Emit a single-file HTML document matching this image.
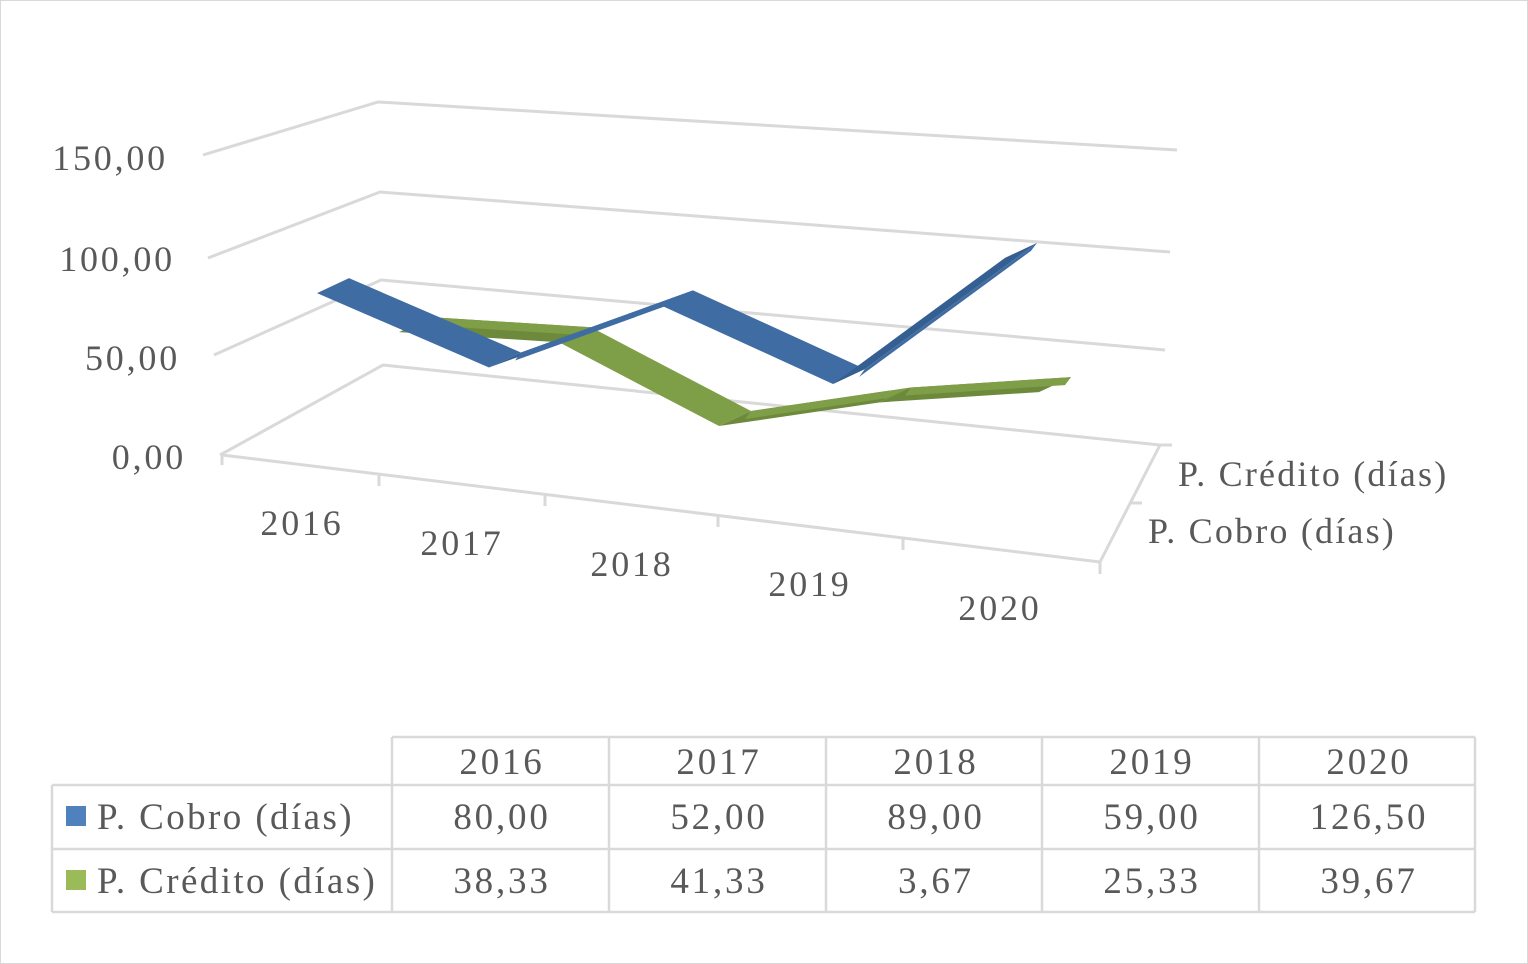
<!DOCTYPE html>
<html><head><meta charset="utf-8"><style>
body{margin:0;background:#fff}
svg{display:block}
text{font-family:"Liberation Serif",serif;fill:#595959;letter-spacing:2.8px}
</style></head><body>
<svg width="1528" height="964" xmlns="http://www.w3.org/2000/svg">
<rect x="0.5" y="0.5" width="1527" height="963" fill="#fff" stroke="#d9d9d9"/>
<g id="grid" stroke="#d9d9d9" stroke-width="3" fill="none">
<polyline points="203,155 378,102 1177,150"/>
<polyline points="208,258 380,192 1170,252"/>
<polyline points="214,355 381,280 1165,350"/>
<polyline points="220,455 383,365 1160,445"/>
<polyline points="222,455 1100,562 1160,445"/>
<line x1="222" y1="455" x2="222" y2="465"/><line x1="379" y1="474" x2="379" y2="486"/>
<line x1="545" y1="494" x2="545" y2="506"/><line x1="718" y1="515" x2="718" y2="527"/>
<line x1="903" y1="538" x2="903" y2="550"/><line x1="1100" y1="562" x2="1100" y2="574"/>
<line x1="1130" y1="503" x2="1142" y2="503"/><line x1="1160" y1="445" x2="1172" y2="445"/>
</g>
<g font-size="36" text-anchor="end">
<text x="168" y="170">150,00</text><text x="175" y="271">100,00</text>
<text x="180" y="370">50,00</text><text x="186" y="469">0,00</text>
</g>
<g font-size="36" text-anchor="middle">
<text x="302" y="535">2016</text><text x="462" y="555">2017</text><text x="632" y="576">2018</text>
<text x="810" y="596">2019</text><text x="1000" y="620">2020</text>
</g>
<g font-size="36">
<text x="1178" y="486" style="letter-spacing:2.2px">P. Crédito (días)</text><text x="1148" y="543" style="letter-spacing:2.2px">P. Cobro (días)</text>
</g>
<g id="series"></g>
<g stroke="#d9d9d9" stroke-width="2.5" fill="none">
<line x1="392" y1="737" x2="1475" y2="737"/>
<line x1="52" y1="785" x2="1475" y2="785"/>
<line x1="52" y1="849" x2="1475" y2="849"/>
<line x1="52" y1="912" x2="1475" y2="912"/>
<line x1="52" y1="785" x2="52" y2="912"/>
<line x1="392" y1="737" x2="392" y2="912"/><line x1="609" y1="737" x2="609" y2="912"/>
<line x1="826" y1="737" x2="826" y2="912"/><line x1="1042" y1="737" x2="1042" y2="912"/>
<line x1="1259" y1="737" x2="1259" y2="912"/><line x1="1475" y1="737" x2="1475" y2="912"/>
</g>
<rect x="66" y="806" width="20" height="20" fill="#4f81bd"/>
<rect x="66" y="870" width="20" height="20" fill="#9bbb59"/>
<g font-size="37">
<text x="97" y="829" style="letter-spacing:2.4px">P. Cobro (días)</text><text x="97" y="893" style="letter-spacing:2.4px">P. Crédito (días)</text>
</g>
<g id="tbl" font-size="37" text-anchor="middle"></g>
</svg>
<script>
const categories=["2016","2017","2018","2019","2020"];
const cobro=[80.00,52.00,89.00,59.00,126.50];
const credito=[38.33,41.33,3.67,25.33,39.67];
const cobroLabels=["80,00","52,00","89,00","59,00","126,50"];
const creditoLabels=["38,33","41,33","3,67","25,33","39,67"];
const NS="http://www.w3.org/2000/svg";
const rows={
 cobro:{x0:333,dx:172,a:453.6,b:15.6,k:2.1,c:"#3f6ca3",c2:"#365f91"},
 credito:{x0:415,dx:160,a:394,b:15.6,k:1.81,c:"#7f9e48",c2:"#6d8a3c"}
};
function pt(r,i,v){return [r.x0+i*r.dx, r.a+r.b*i-r.k*v];}
const g=document.getElementById('series');
function draw(name,vals){
 const r=rows[name];
 for(let i=0;i<vals.length-1;i++){
  const p=pt(r,i,vals[i]),q=pt(r,i+1,vals[i+1]);
  const ox=16,oy=-7.5;
  const poly=document.createElementNS(NS,'polygon');
  poly.setAttribute('points',[[p[0]-ox,p[1]-oy],[q[0]-ox,q[1]-oy],[q[0]+ox,q[1]+oy],[p[0]+ox,p[1]+oy]].map(a=>a.join(',')).join(' '));
  poly.setAttribute('fill',vals[i+1]>vals[i]?r.c2:r.c);
  
  
  g.appendChild(poly);
  if(vals[i+1]>vals[i]){
   const s=document.createElementNS(NS,'polygon');
   s.setAttribute('points',[[p[0]+ox,p[1]+oy],[q[0]+ox,q[1]+oy],[q[0]+ox-6,q[1]+oy+8],[p[0]+ox-6,p[1]+oy+8]].map(a=>a.join(',')).join(' '));
   s.setAttribute('fill',r.c);
   
   
   g.appendChild(s);
  }
 }
}
draw('credito',credito);
draw('cobro',cobro);
const t=document.getElementById('tbl');
const cx=[502,719,936,1152,1369];
function txt(s,x,y){const e=document.createElementNS(NS,'text');e.setAttribute('x',x);e.setAttribute('y',y);e.textContent=s;


t.appendChild(e);}
categories.forEach((c,i)=>{txt(c,cx[i],774);txt(cobroLabels[i],cx[i],829);txt(creditoLabels[i],cx[i],893);});
</script>
</body></html>
